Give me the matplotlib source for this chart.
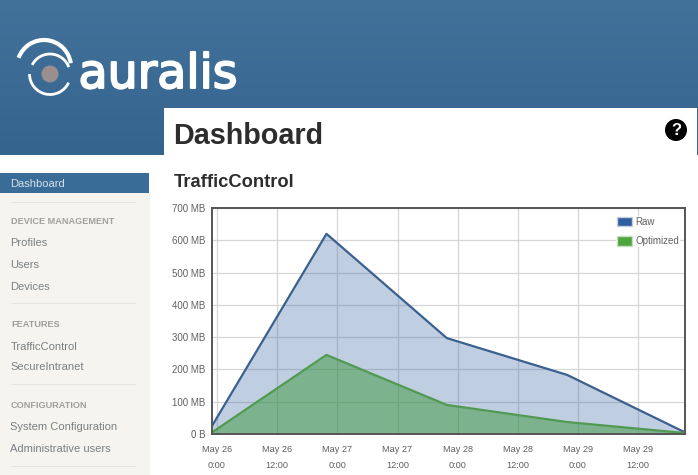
import matplotlib
matplotlib.use("Agg")
import matplotlib.pyplot as plt
import matplotlib.dates as mdates
import matplotlib.patheffects as pe
import numpy as np
import pandas as pd
from matplotlib.patches import Arc, Circle, Patch, Rectangle

# traffic data
times = pd.to_datetime(["2014-05-25 23:00", "2014-05-26 21:50", "2014-05-27 21:50",
                        "2014-05-28 21:50", "2014-05-29 21:20"])
raw_mb = [25, 620, 297, 183, 5]
optimized_mb = [5, 245, 90, 37, 3]
y_ticks = [0, 100, 200, 300, 400, 500, 600, 700]
y_labels = ["0 B", "100 MB", "200 MB", "300 MB", "400 MB", "500 MB", "600 MB", "700 MB"]

# sidebar text
headings = ["DEVICE MANAGEMENT", "FEATURES", "CONFIGURATION"]
heading_rows = [221.5, 324.5, 405.5]
links = ["Profiles", "Users", "Devices", "TrafficControl", "SecureIntranet",
         "System Configuration", "Administrative users"]
link_rows = [243.5, 265, 286.5, 346.5, 367.5, 427.5, 448.5]
separator_rows = [201.5, 303, 384, 466]

plt.rcParams["font.family"] = ["Liberation Sans", "DejaVu Sans"]

W, H = 698, 475
fig = plt.figure(figsize=(W / 100, H / 100), dpi=100)
fig.patch.set_facecolor("white")

# page drawn in pixel coordinates
page = fig.add_axes([0, 0, 1, 1])
page.set_xlim(0, W)
page.set_ylim(H, 0)
page.axis("off")

# header gradient
grad = np.linspace(0, 1, 64).reshape(-1, 1)
header_cmap = matplotlib.colors.LinearSegmentedColormap.from_list("hdr", ["#42719a", "#35658f"])
page.imshow(grad, cmap=header_cmap, extent=(0, W, 155, 0), aspect="auto", zorder=0)
page.set_xlim(0, W)
page.set_ylim(H, 0)

# sidebar and content panel
page.add_patch(Rectangle((0, 193), 150, 282, fc="#f5f4ee", ec="none", zorder=1))
page.add_patch(Rectangle((0, 173), 149, 20, fc="#3a6c98", ec="none", zorder=2))
page.add_patch(Rectangle((164, 108), 533, 367, fc="white", ec="none", zorder=1))
page.text(10.5, 184, "Dashboard", color="#d5e0ea", fontsize=8, va="center", zorder=3)
for row in separator_rows:
    page.plot([12, 135], [row, row], color="#e4e3dd", lw=0.8, zorder=2)
for name, row in zip(headings, heading_rows):
    page.text(11, row, name, color="#9f9f9d", fontsize=6.6, fontweight="bold", va="center", zorder=3)
for name, row in zip(links, link_rows):
    page.text(10.5, row, name, color="#7a8086", fontsize=8, va="center", zorder=3)

# logo
page.add_patch(Arc((44, 67), 54, 54, theta1=200, theta2=352, color="white", lw=3, zorder=3))
page.add_patch(Arc((50, 74), 40, 40, theta1=207, theta2=340, color="white", lw=2, zorder=3))
page.add_patch(Arc((50, 74), 41, 41, theta1=25, theta2=180, color="white", lw=2, zorder=3))
page.add_patch(Circle((50, 74), 8.5, fc="#9a8f8c", ec="none", zorder=3))
logo = page.text(78.5, 88, "auralis", color="white", fontsize=34.2, family="DejaVu Sans", va="baseline", zorder=3)
logo.set_path_effects([pe.withStroke(linewidth=1.4, foreground="white")])

# titles and help button
page.text(173.5, 135.5, "Dashboard", color="#2d2d2d", fontsize=20.7, fontweight="bold", va="center", zorder=3)
page.text(174, 182.5, "TrafficControl", color="#2d2d2d", fontsize=13.2, fontweight="bold", va="center", zorder=3)
page.add_patch(Circle((676, 130), 11, fc="black", ec="none", zorder=3))
page.text(676, 130.5, "?", color="white", fontsize=12, fontweight="bold", ha="center", va="center", zorder=4)

# chart
left, right, top, bottom = 212, 685, 208, 434
ax = fig.add_axes([left / W, 1 - bottom / H, (right - left) / W, (bottom - top) / H])
ax.set_facecolor("white")
ax.set_axisbelow(True)
ax.grid(color="#d6d6d8", lw=0.9)

ax.fill_between(times, raw_mb, color="#2f5f9f", alpha=0.3, lw=0)
ax.fill_between(times, optimized_mb, color="#3f9a3f", alpha=0.52, lw=0)
ax.plot(times, raw_mb, color="#3b608f", lw=1.6)
ax.plot(times, optimized_mb, color="#519a52", lw=1.6)

ax.set_xlim(times[0], times[-1])
ax.set_ylim(0, 700)
ax.set_yticks(y_ticks)
ax.set_yticklabels(y_labels)
ax.xaxis.set_major_locator(mdates.HourLocator(byhour=[0, 12]))
ax.xaxis.set_major_formatter(mdates.DateFormatter("%b %d\n%-H:%M"))
ax.tick_params(axis="x", length=0, labelsize=6.6, labelcolor="#606060", pad=8)
ax.tick_params(axis="y", length=0, labelsize=7, labelcolor="#606060", pad=5)
for lab in ax.get_xticklabels():
    lab.set_linespacing(2.0)
for spine in ax.spines.values():
    spine.set_color("#555555")
    spine.set_linewidth(1.4)

handles = [Patch(fc="#2f5f9f", ec="#c4cfdd", label="Raw"),
           Patch(fc="#4fa63f", ec="#c9dcc4", label="Optimized")]
leg = ax.legend(handles=handles, loc="upper right", bbox_to_anchor=(0.99, 0.964), fontsize=7,
                frameon=True, framealpha=1, facecolor="white", edgecolor="none",
                handlelength=1.6, handleheight=1.1, handletextpad=0.35, labelspacing=0.95,
                borderpad=0.1, borderaxespad=0, labelcolor="#606060")

fig.savefig("out.png", dpi=100)
